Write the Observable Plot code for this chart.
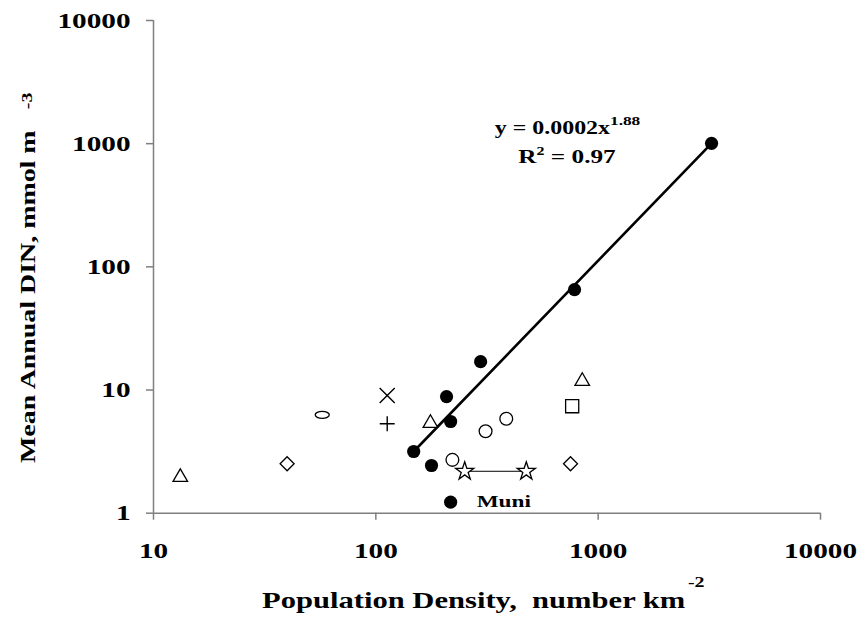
<!DOCTYPE html>
<html>
<head>
<meta charset="utf-8">
<script src="https://cdn.jsdelivr.net/npm/d3@7"></script>
<script src="https://cdn.jsdelivr.net/npm/@observablehq/plot@0.6"></script>
<style>
  body { margin: 0; background: #fff; }
  svg text { font-family: "Liberation Serif", "Times New Roman", serif; font-weight: bold; }
</style>
</head>
<body>
<div id="chart"></div>
<script>
// ---- data ----
const xTicks = [10, 100, 1000, 10000];
const yTicks = [1, 10, 100, 1000, 10000];

const filledX = [148, 178, 208, 217, 296, 783, 3236];
const filledY = [3.17, 2.44, 8.85, 5.55, 17.0, 65.4, 1007];
const muniX = [217];
const muniY = [1.23];
const muniLabel = ["Muni"];
const openCircleX = [221, 311.6, 386];
const openCircleY = [2.71, 4.63, 5.84];
const ovalX = [57.4];
const ovalY = [6.29];
const triangleX = [13.2, 176, 848];
const triangleY = [1.96, 5.38, 11.8];
const diamondX = [39.9, 751];
const diamondY = [2.52, 2.52];
const squareX = [764];
const squareY = [7.39];
const timesX = [112.5];
const timesY = [9.02];
const plusX = [112.5];
const plusY = [5.32];
const starX = [251, 475];
const starY = [2.19, 2.19];
const fitX = [148, 3236];
const fitY = [3.17, 1007];

const equationText = "y = 0.0002x", equationExp = "1.88";
const r2Text = "R", r2Exp = "2", r2Value = " = 0.97";
const xTitle = "Population Density,\u00a0 number km", xTitleExp = "-2";
const yTitle = "Mean Annual DIN, mmol m", yTitleExp = "-3";

const S = 1.33; // horizontal stretch of the reference's lettering

const pts = (xs, ys, labels) => xs.map((x, i) => ({x, y: ys[i], label: labels ? labels[i] : ""}));

// elongated open oval symbol
const ovalSymbol = {
  draw(ctx, size) {
    const r = Math.sqrt(size / Math.PI), rx = r * 1.1, ry = r * 0.55, k = 0.5523;
    ctx.moveTo(rx, 0);
    ctx.bezierCurveTo(rx, ry * k, rx * k, ry, 0, ry);
    ctx.bezierCurveTo(-rx * k, ry, -rx, ry * k, -rx, 0);
    ctx.bezierCurveTo(-rx, -ry * k, -rx * k, -ry, 0, -ry);
    ctx.bezierCurveTo(rx * k, -ry, rx, -ry * k, rx, 0);
    ctx.closePath();
  }
};

const axisGray = "#7f7f7f";
const open = {x: "x", y: "y", stroke: "black", strokeWidth: 1.3, fill: "white"};

const svg = Plot.plot({
  width: 858,
  height: 619,
  marginLeft: 153,
  marginRight: 38,
  marginTop: 20,
  marginBottom: 106.3,
  style: {background: "white", fontFamily: '"Liberation Serif", "Times New Roman", serif', overflow: "visible"},
  x: {type: "log", domain: [10, 10000], axis: null},
  y: {type: "log", domain: [1, 10000], axis: null},
  marks: [
    Plot.ruleY([1], {stroke: axisGray, strokeWidth: 1.5}),
    Plot.ruleX([10], {stroke: axisGray, strokeWidth: 1.5}),
    Plot.axisX({ticks: xTicks, tickFormat: d => String(d), tickSize: 7, tickPadding: 22,
      stroke: axisGray, strokeWidth: 1.5, fill: "black", fontSize: 22, fontWeight: "bold", label: null}),
    Plot.axisY({ticks: yTicks, tickFormat: d => String(d), tickSize: 7, tickPadding: 16,
      stroke: axisGray, strokeWidth: 1.5, fill: "black", fontSize: 22, fontWeight: "bold", label: null}),
    Plot.line(pts(fitX, fitY), {x: "x", y: "y", stroke: "black", strokeWidth: 2.6}),
    Plot.line(pts(starX, starY), {x: "x", y: "y", stroke: "black", strokeWidth: 1}),
    Plot.dot(pts(filledX, filledY), {x: "x", y: "y", r: 6.6, fill: "black", symbol: "circle"}),
    Plot.dot(pts(muniX, muniY), {x: "x", y: "y", r: 6.6, fill: "black", symbol: "circle"}),
    Plot.text(pts(muniX, muniY, muniLabel), {x: "x", y: "y", text: "label", dx: 26, dy: -1,
      textAnchor: "start", fontSize: 17.5, fontWeight: "bold", fill: "black"}),
    Plot.dot(pts(openCircleX, openCircleY), {...open, r: 6.4, symbol: "circle"}),
    Plot.dot(pts(ovalX, ovalY), {...open, r: 6.4, symbol: ovalSymbol}),
    Plot.dot(pts(triangleX, triangleY), {...open, r: 5.4, symbol: "triangle"}),
    Plot.dot(pts(diamondX, diamondY), {...open, r: 6.3, symbol: "diamond2"}),
    Plot.dot(pts(squareX, squareY), {...open, r: 7.4, symbol: "square"}),
    Plot.dot(pts(timesX, timesY), {x: "x", y: "y", stroke: "black", strokeWidth: 1.4, r: 6.9, symbol: "times"}),
    Plot.dot(pts(plusX, plusY), {x: "x", y: "y", stroke: "black", strokeWidth: 1.4, r: 4.9, symbol: "plus"}),
    Plot.dot(pts(starX, starY), {...open, r: 5.7, symbol: "star"})
  ]
});

// ---- titles and annotations with superscripts ----
const s = d3.select(svg);
const g = s.append("g").attr("font-weight", "bold").attr("fill", "black");

const eq = g.append("text").attr("x", 567.5).attr("y", 134.3).attr("font-size", 18).attr("text-anchor", "middle");
eq.append("tspan").text(equationText);
eq.append("tspan").attr("dy", -9).attr("font-size", 13).text(equationExp);

const r2 = g.append("text").attr("x", 567).attr("y", 162.7).attr("font-size", 19).attr("text-anchor", "middle");
r2.append("tspan").text(r2Text);
r2.append("tspan").attr("dy", -8).attr("font-size", 12).text(r2Exp);
r2.append("tspan").attr("dy", 8).text(r2Value);

const xt = g.append("text").attr("x", 262).attr("y", 608).attr("font-size", 23).attr("text-anchor", "start");
xt.append("tspan").text(xTitle);
xt.append("tspan").attr("dx", 2).attr("dy", -21).attr("font-size", 15).text(xTitleExp);

const yt = g.append("text").attr("transform", "translate(35,463) rotate(-90)").attr("font-size", 21).attr("text-anchor", "start");
yt.append("tspan").text(yTitle);
yt.append("tspan").attr("dx", 16).attr("dy", -3).attr("font-size", 15).text(yTitleExp);

document.getElementById("chart").appendChild(svg);

// stretch every label horizontally around its anchor, like the reference lettering
// (only the x attribute is affected by a horizontal scale; y / em offsets are kept as they are)
svg.querySelectorAll("text").forEach(t => {
  const x = t.getAttribute("x");
  let tr = t.getAttribute("transform") || "";
  if (x !== null && isFinite(+x)) {
    tr += ` translate(${+x},0)`;
    t.removeAttribute("x");
  }
  t.setAttribute("transform", (tr + ` scale(${S},1)`).trim());
});
</script>
</body>
</html>
